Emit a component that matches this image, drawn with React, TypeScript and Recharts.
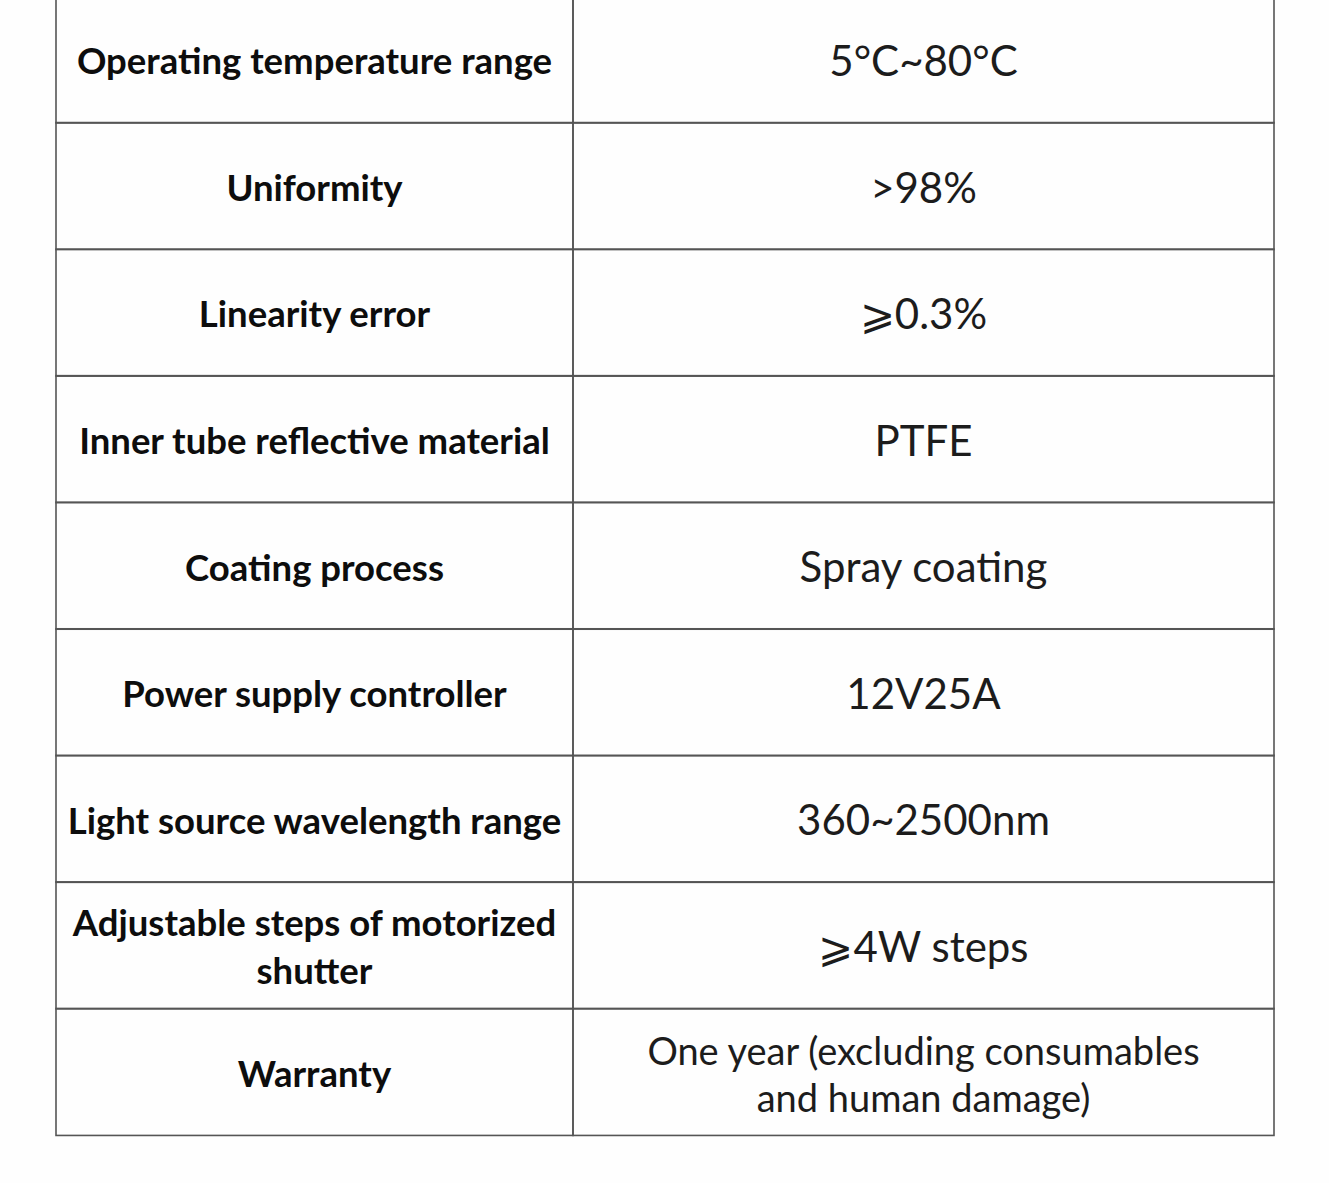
import { BarChart, Bar, XAxis, YAxis } from "recharts";

// spec table: one row per parameter
const parameters = [
  "Operating temperature range",
  "Uniformity",
  "Linearity error",
  "Inner tube reflective material",
  "Coating process",
  "Power supply controller",
  "Light source wavelength range",
  "Adjustable steps of motorized\nshutter",
  "Warranty",
];

const specValues = [
  "5°C~80°C",
  ">98%",
  "⩾0.3%",
  "PTFE",
  "Spray coating",
  "12V25A",
  "360~2500nm",
  "⩾4W steps",
  "One year (excluding consumables\nand human damage)",
];

const rows = parameters.map((p, i) => ({
  parameter: p,
  value: specValues[i],
  cell: 1,
}));

const LABEL_COL = 517;
const LINE = "#555555";
const FONT = "Lato, 'Liberation Sans', Arial, sans-serif";

const ParamTick = (props: any) => {
  const { x, y, payload } = props;
  const lines = String(payload.value).split("\n");
  const cx = x - LABEL_COL / 2;
  const lh = 48;
  const start = y + 15 - ((lines.length - 1) * lh) / 2;
  return (
    <text
      x={cx}
      y={start}
      textAnchor="middle"
      fontFamily={FONT}
      fontWeight="bold"
      fontSize={36.5}
      fill="#0d0d0d"
    >
      {lines.map((l, i) => (
        <tspan key={i} x={cx} y={start + i * lh}>
          {l}
        </tspan>
      ))}
    </text>
  );
};

const RowCell = (props: any) => {
  const { x, y, width, height, payload } = props;
  const lines = String(payload.value).split("\n");
  const multi = lines.length > 1;
  const size = multi ? 38 : 42;
  const cx = x + width / 2;
  const lh = 47;
  const start = y + height / 2 + 16.5 - ((lines.length - 1) * lh) / 2;
  return (
    <g>
      <rect
        x={x - LABEL_COL}
        y={y}
        width={LABEL_COL}
        height={height}
        fill="none"
        stroke={LINE}
        strokeWidth={1.6}
      />
      <rect
        x={x}
        y={y}
        width={width}
        height={height}
        fill="none"
        stroke={LINE}
        strokeWidth={1.6}
      />
      <text
        x={cx}
        y={start}
        textAnchor="middle"
        fontFamily={FONT}
        fontSize={size}
        fill="#1c1c1c"
      >
        {lines.map((l, i) => (
          <tspan key={i} x={cx} y={start + i * lh}>
            {l}
          </tspan>
        ))}
      </text>
    </g>
  );
};

export default function App() {
  return (
    <div
      style={{
        position: "absolute",
        left: 0,
        top: -4,
        width: 1329,
        height: 1187,
        background: "#fefefe",
      }}
    >
      <BarChart
        width={1329}
        height={1142}
        data={rows}
        layout="vertical"
        barCategoryGap={0}
        margin={{ top: 0, right: 55, left: 56, bottom: 3 }}
      >
        <XAxis type="number" domain={[0, 1]} hide />
        <YAxis
          type="category"
          dataKey="parameter"
          width={LABEL_COL}
          axisLine={false}
          tickLine={false}
          tickSize={0}
          tickMargin={0}
          interval={0}
          tick={<ParamTick />}
        />
        <Bar dataKey="cell" shape={<RowCell />} isAnimationActive={false} />
      </BarChart>
    </div>
  );
}
